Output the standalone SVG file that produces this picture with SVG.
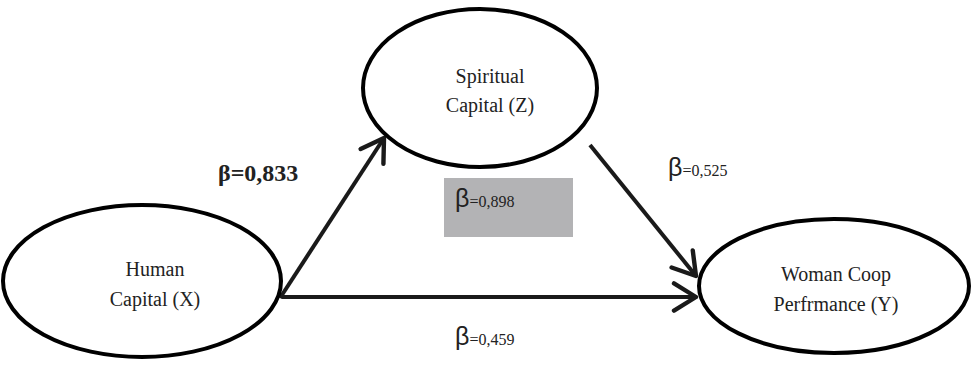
<svg xmlns="http://www.w3.org/2000/svg" width="973" height="365" viewBox="0 0 973 365">
<style>
.node{fill:#fff;stroke:#000;stroke-width:4}
.lbl{font-family:"Liberation Serif","Times New Roman",serif;font-size:20px;fill:#222;text-anchor:middle}
.conn{stroke:#1a1a1a;stroke-width:4;fill:none;marker-end:url(#ah)}
.b{font-family:"Liberation Sans",sans-serif;font-size:25px;fill:#222}
.v{font-family:"Liberation Serif","Times New Roman",serif;font-size:16px;fill:#222}
.bold{font-family:"Liberation Serif","Times New Roman",serif;font-size:24px;font-weight:bold;fill:#222}
</style>
<defs>
<marker id="ah" markerWidth="8" markerHeight="8" refX="6.5" refY="4" orient="auto" markerUnits="strokeWidth">
<path d="M1,0.6 L6.5,4 L1,7.4" fill="none" stroke="#1a1a1a" stroke-width="1.1" stroke-linecap="round" stroke-linejoin="round"/>
</marker>
</defs>
<rect x="444" y="178" width="129" height="59" fill="#b3b3b5"/>
<g id="connectors">
<path class="conn" d="M280,298 L384,138"/>
<path class="conn" d="M282,297 L696,297"/>
<path class="conn" d="M590,145 L696,276"/>
</g>
<g id="human">
<ellipse class="node" cx="142" cy="281" rx="139" ry="76"/>
<text class="lbl" x="155" y="276">Human</text>
<text class="lbl" x="155" y="306">Capital (X)</text>
</g>
<g id="spiritual">
<ellipse class="node" cx="480" cy="88" rx="117" ry="79"/>
<text class="lbl" x="490" y="83">Spiritual</text>
<text class="lbl" x="490" y="112">Capital (Z)</text>
</g>
<g id="woman">
<ellipse class="node" cx="834" cy="286" rx="135" ry="67"/>
<text class="lbl" x="836" y="281">Woman Coop</text>
<text class="lbl" x="836" y="311">Perfrmance (Y)</text>
</g>
<text class="bold" x="218" y="181">β=0,833</text>
<text x="668" y="176"><tspan class="b">β</tspan><tspan class="v">=0,525</tspan></text>
<text x="455" y="207"><tspan class="b">β</tspan><tspan class="v">=0,898</tspan></text>
<text x="455" y="345"><tspan class="b">β</tspan><tspan class="v">=0,459</tspan></text>
</svg>
